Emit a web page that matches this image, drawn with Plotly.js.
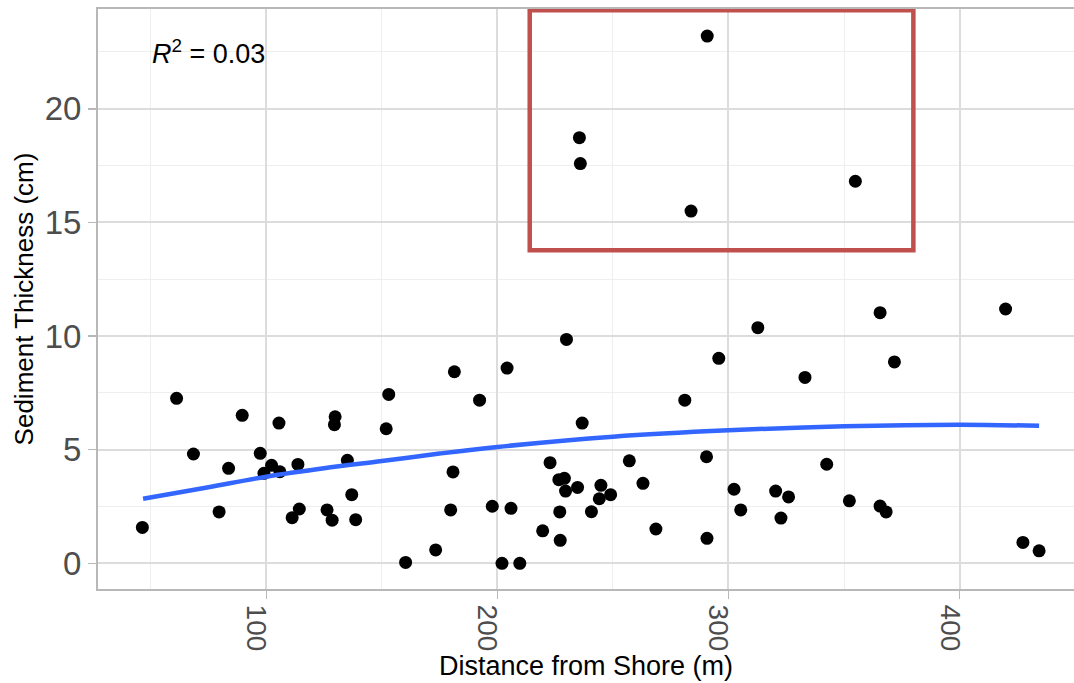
<!DOCTYPE html>
<html>
<head>
<meta charset="utf-8">
<script src="https://cdn.plot.ly/plotly-3.0.1.min.js"></script>
<style>
  html, body { margin: 0; padding: 0; background: #ffffff; }
  #chart { width: 1074px; height: 683px; }
</style>
</head>
<body>
<div id="chart"></div>
<script>
// Distance from shore (m) for each core
const distance = [
  61.2, 89.6, 105.5, 129.8, 129.5, 153.0, 151.9, 68.5, 97.4, 83.7,
  102.3, 99.0, 105.9, 113.7, 135.1, 137.0, 46.4, 79.6, 114.3, 111.2,
  126.3, 128.5, 138.7, 160.3,
  229.9, 181.4, 204.2, 192.3, 236.7, 295.8, 281.1, 180.8, 222.8, 226.6,
  229.0, 229.5, 234.7, 244.8, 244.1, 249.0, 257.1, 263.0, 290.5, 179.8,
  197.8, 205.9, 227.0, 240.7, 219.6, 227.2, 268.6, 290.7, 173.3, 202.0,
  209.7,
  312.7, 365.6, 419.9, 371.8, 333.1, 342.5, 302.4, 305.3, 320.4, 326.0,
  322.7, 352.3, 365.6, 368.2, 427.4, 434.4,
  290.8, 235.5, 235.9, 283.8, 354.9
];
// Sediment thickness (cm) for each core
const thickness = [
  7.26, 6.51, 6.17, 6.45, 6.10, 7.43, 5.92, 4.81, 4.84, 4.18,
  4.31, 3.96, 4.03, 4.35, 4.53, 3.02, 1.58, 2.26, 2.39, 2.01,
  2.35, 1.90, 1.92, 0.04,
  9.85, 8.43, 8.59, 7.18, 6.17, 9.02, 7.18, 4.02, 4.43, 3.68,
  3.74, 3.18, 3.34, 3.43, 2.84, 3.02, 4.51, 3.52, 4.69, 2.35,
  2.51, 2.42, 2.26, 2.27, 1.43, 1.01, 1.51, 1.10, 0.59, 0.00,
  0.00,
  10.37, 11.03, 11.19, 8.86, 8.18, 4.36, 3.26, 2.35, 3.18, 2.92,
  1.99, 2.75, 2.52, 2.26, 0.92, 0.55,
  23.20, 18.73, 17.59, 15.50, 16.81
];
// Smoothed fit curve
const fitX = [46.7, 75, 100, 125, 150, 175, 200, 250, 300, 350, 400, 434.4];
const fitY = [2.84, 3.35, 3.81, 4.18, 4.50, 4.83, 5.12, 5.57, 5.85, 6.03, 6.10, 6.05];
// Highlight box around the outliers: [x0, x1, y0, y1]
const highlightBox = [214, 380, 13.78, 24.33];
const xTicks = [100, 200, 300, 400];
const yTicks = [0, 5, 10, 15, 20];
const annotationText = '<i>R</i><sup>2</sup> = 0.03';
const annotationPos = [75, 22.5];

const gridMajor = '#dcdcdc';
const gridMinor = '#eeeeee';
const frame = '#b8b8b8';

const traces = [
  {
    x: distance, y: thickness, type: 'scatter', mode: 'markers',
    marker: { color: '#000000', size: 13 },
    hoverinfo: 'x+y', showlegend: false
  },
  {
    x: fitX, y: fitY, type: 'scatter', mode: 'lines',
    line: { color: '#3366FF', width: 4.5, shape: 'spline', smoothing: 1 },
    hoverinfo: 'skip', showlegend: false
  }
];

const layout = {
  width: 1074, height: 683,
  margin: { l: 98, r: 0, t: 9, b: 94 },
  paper_bgcolor: '#ffffff', plot_bgcolor: '#ffffff',
  font: { family: 'Liberation Sans, Arial, sans-serif', color: '#000000' },
  showlegend: false,
  xaxis: {
    range: [27.2, 449.5],
    tickvals: xTicks, ticktext: xTicks.map(String),
    tickangle: 90,
    tickfont: { size: 28, color: '#4d4d4d' },
    ticklabelshift: -10,
    ticks: 'outside', ticklen: 8, tickwidth: 1.5, tickcolor: frame,
    showgrid: true, gridcolor: gridMajor, gridwidth: 2,
    minor: { dtick: 50, tick0: 0, showgrid: true, gridcolor: gridMinor, gridwidth: 1, ticks: '' },
    showline: true, linecolor: frame, linewidth: 2, mirror: true,
    zeroline: false,
    title: { text: 'Distance from Shore (m)', font: { size: 27, color: '#000000' }, standoff: 2 }
  },
  yaxis: {
    range: [-1.13, 24.39],
    tickvals: yTicks, ticktext: yTicks.map(String),
    tickfont: { size: 33, color: '#4d4d4d' },
    ticks: 'outside', ticklen: 8, tickwidth: 1.5, tickcolor: frame,
    showgrid: true, gridcolor: gridMajor, gridwidth: 2,
    minor: { dtick: 2.5, tick0: 0, showgrid: true, gridcolor: gridMinor, gridwidth: 1, ticks: '' },
    showline: true, linecolor: frame, linewidth: 2, mirror: false,
    zeroline: false,
    title: { text: 'Sediment Thickness (cm)', font: { size: 26, color: '#000000' }, standoff: 4 }
  },
  annotations: [
    {
      x: annotationPos[0], y: annotationPos[1], xref: 'x', yref: 'y',
      text: annotationText, showarrow: false,
      font: { size: 27, color: '#000000' }
    }
  ],
  shapes: [
    {
      type: 'rect', xref: 'x', yref: 'y',
      x0: highlightBox[0], x1: highlightBox[1], y0: highlightBox[2], y1: highlightBox[3],
      line: { color: '#c0504d', width: 4.5 },
      fillcolor: 'rgba(0,0,0,0)'
    }
  ]
};

Plotly.newPlot('chart', traces, layout, { displayModeBar: false, staticPlot: true });
</script>
</body>
</html>
